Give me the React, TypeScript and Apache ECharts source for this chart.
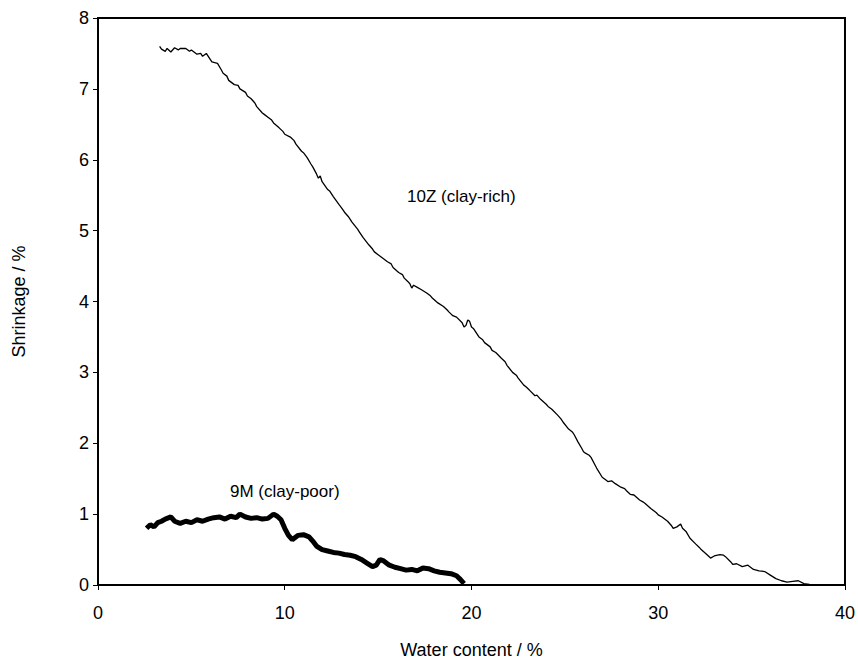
import React, { useEffect, useRef } from "react";
import * as echarts from "echarts";

const xTicks = [0, 10, 20, 30, 40];
const yTicks = [0, 1, 2, 3, 4, 5, 6, 7, 8];

const clayRich10Z: [number, number][] = [
  [3.3, 7.6], [3.4, 7.56], [3.6, 7.53], [3.7, 7.57], [3.9, 7.52], [4.1, 7.58], [4.3, 7.55], [4.4, 7.57],
  [4.7, 7.57], [4.9, 7.53], [5.0, 7.55], [5.3, 7.49], [5.5, 7.5], [5.6, 7.46], [5.8, 7.5], [6.0, 7.42],
  [6.1, 7.38], [6.4, 7.36], [6.6, 7.27], [6.7, 7.22], [6.9, 7.18], [7.0, 7.12], [7.3, 7.06], [7.5, 7.05],
  [7.6, 7.0], [7.9, 6.95], [8.0, 6.9], [8.2, 6.86], [8.4, 6.8], [8.5, 6.75], [8.8, 6.66], [8.9, 6.64],
  [9.1, 6.6], [9.3, 6.56], [9.4, 6.52], [9.7, 6.45], [9.9, 6.4], [10.0, 6.36], [10.3, 6.32], [10.5, 6.27],
  [10.6, 6.22], [10.9, 6.12], [11.0, 6.1], [11.2, 6.03], [11.4, 5.94], [11.5, 5.9], [11.7, 5.8],
  [11.8, 5.74], [11.9, 5.77], [12.0, 5.69], [12.3, 5.58], [12.4, 5.56], [12.6, 5.48], [12.9, 5.37],
  [13.1, 5.3], [13.2, 5.26], [13.4, 5.2], [13.6, 5.12], [13.9, 5.02], [14.0, 4.98], [14.2, 4.9],
  [14.5, 4.8], [14.7, 4.74], [14.8, 4.7], [15.0, 4.66], [15.2, 4.62], [15.5, 4.56], [15.7, 4.53],
  [15.8, 4.48], [16.1, 4.41], [16.3, 4.38], [16.4, 4.33], [16.6, 4.28], [16.7, 4.25], [16.8, 4.19],
  [16.9, 4.23], [17.1, 4.2], [17.3, 4.17], [17.6, 4.12], [17.8, 4.08], [17.9, 4.05], [18.2, 3.98],
  [18.5, 3.93], [18.7, 3.88], [18.8, 3.85], [19.0, 3.8], [19.2, 3.78], [19.5, 3.7], [19.6, 3.64],
  [19.7, 3.66], [19.8, 3.74], [19.9, 3.72], [20.0, 3.64], [20.1, 3.62], [20.4, 3.5], [20.6, 3.46],
  [20.7, 3.42], [21.0, 3.36], [21.1, 3.31], [21.3, 3.28], [21.6, 3.2], [21.8, 3.15], [21.9, 3.1],
  [22.2, 3.0], [22.4, 2.96], [22.5, 2.92], [22.8, 2.82], [22.9, 2.8], [23.1, 2.75], [23.4, 2.67],
  [23.5, 2.68], [23.7, 2.62], [24.0, 2.55], [24.1, 2.52], [24.3, 2.48], [24.6, 2.4], [24.8, 2.34],
  [24.9, 2.3], [25.2, 2.2], [25.4, 2.16], [25.5, 2.12], [25.7, 2.02], [25.9, 1.93], [26.0, 1.88],
  [26.1, 1.86], [26.3, 1.83], [26.4, 1.8], [26.6, 1.7], [26.7, 1.65], [27.0, 1.52], [27.2, 1.48],
  [27.3, 1.46], [27.5, 1.47], [27.7, 1.43], [28.0, 1.38], [28.2, 1.36], [28.3, 1.33], [28.5, 1.28],
  [28.7, 1.27], [29.0, 1.2], [29.2, 1.17], [29.3, 1.15], [29.6, 1.08], [29.9, 1.02], [30.0, 0.99],
  [30.2, 0.96], [30.5, 0.9], [30.7, 0.84], [30.8, 0.8], [31.0, 0.82], [31.2, 0.86], [31.3, 0.8],
  [31.5, 0.75], [31.7, 0.66], [32.0, 0.58], [32.2, 0.53], [32.3, 0.5], [32.6, 0.43], [32.8, 0.38],
  [33.0, 0.41], [33.3, 0.43], [33.5, 0.42], [33.6, 0.4], [33.9, 0.32], [34.0, 0.29], [34.2, 0.3],
  [34.5, 0.26], [34.8, 0.28], [35.1, 0.22], [35.4, 0.2], [35.7, 0.19], [36.0, 0.14], [36.3, 0.09],
  [36.6, 0.06], [36.9, 0.04], [37.2, 0.05], [37.5, 0.06], [37.8, 0.02], [38.1, 0.01], [38.5, 0.0],
];

const clayPoor9M: [number, number][] = [
  [2.6, 0.8], [2.8, 0.85], [3.0, 0.82], [3.2, 0.88], [3.4, 0.9], [3.6, 0.93], [3.9, 0.96],
  [4.1, 0.9], [4.4, 0.87], [4.7, 0.9], [5.0, 0.88], [5.3, 0.92], [5.6, 0.9], [5.9, 0.93],
  [6.2, 0.95], [6.5, 0.96], [6.8, 0.93], [7.1, 0.97], [7.4, 0.95], [7.6, 1.0], [7.9, 0.96],
  [8.2, 0.94], [8.5, 0.95], [8.8, 0.93], [9.1, 0.94], [9.4, 1.0], [9.6, 0.97], [9.8, 0.92],
  [10.0, 0.8], [10.2, 0.7], [10.4, 0.64], [10.7, 0.7], [11.0, 0.71], [11.3, 0.68], [11.5, 0.62],
  [11.7, 0.55], [12.0, 0.5], [12.3, 0.48], [12.6, 0.46], [12.9, 0.45], [13.2, 0.43], [13.5, 0.42],
  [13.8, 0.4], [14.1, 0.36], [14.4, 0.31], [14.7, 0.26], [14.9, 0.28], [15.1, 0.36], [15.3, 0.34],
  [15.6, 0.28], [15.9, 0.25], [16.2, 0.23], [16.5, 0.21], [16.8, 0.22], [17.1, 0.2], [17.4, 0.24],
  [17.7, 0.23], [18.0, 0.2], [18.3, 0.18], [18.6, 0.17], [18.9, 0.16], [19.2, 0.13], [19.4, 0.08],
  [19.6, 0.02],
];

const FONT = "Liberation Sans, Arial, Helvetica, sans-serif";

export default function App() {
  const ref = useRef<HTMLDivElement>(null);
  useEffect(() => {
    if (!ref.current) return;
    const chart = echarts.init(ref.current, undefined, { renderer: "svg" });
    chart.setOption({
      animation: false,
      backgroundColor: "#ffffff",
      textStyle: { fontFamily: FONT },
      grid: {
        left: 98,
        right: 13,
        top: 18,
        bottom: 84,
        show: true,
        borderColor: "#000",
        borderWidth: 2,
        backgroundColor: "transparent",
      },
      xAxis: {
        type: "value",
        min: xTicks[0],
        max: xTicks[xTicks.length - 1],
        interval: 10,
        name: "Water content / %",
        nameLocation: "middle",
        nameGap: 56,
        nameTextStyle: { fontSize: 18, color: "#000", fontFamily: FONT },
        axisLine: { show: true, lineStyle: { color: "#000", width: 2 } },
        axisTick: { show: true, inside: false, length: 5, lineStyle: { color: "#000", width: 1 } },
        axisLabel: { fontSize: 18, color: "#000", margin: 19, fontFamily: FONT },
        splitLine: { show: false },
      },
      yAxis: {
        type: "value",
        min: yTicks[0],
        max: yTicks[yTicks.length - 1],
        interval: 1,
        name: "Shrinkage / %",
        nameLocation: "middle",
        nameGap: 70,
        nameTextStyle: { fontSize: 18, color: "#000", fontFamily: FONT },
        axisLine: { show: true, lineStyle: { color: "#000", width: 2 } },
        axisTick: { show: true, inside: false, length: 5, lineStyle: { color: "#000", width: 1 } },
        axisLabel: { fontSize: 18, color: "#000", margin: 9, fontFamily: FONT },
        splitLine: { show: false },
      },
      series: [
        {
          name: "10Z (clay-rich)",
          type: "line",
          data: clayRich10Z,
          showSymbol: false,
          symbol: "none",
          lineStyle: { color: "#000", width: 1.3 },
        },
        {
          name: "9M (clay-poor)",
          type: "line",
          data: clayPoor9M,
          showSymbol: false,
          symbol: "none",
          lineStyle: { color: "#000", width: 5 },
        },
      ],
      graphic: [
        {
          type: "text",
          left: 407,
          top: 188,
          style: { text: "10Z (clay-rich)", fontSize: 17, fill: "#000", fontFamily: FONT },
        },
        {
          type: "text",
          left: 230,
          top: 483,
          style: { text: "9M (clay-poor)", fontSize: 17, fill: "#000", fontFamily: FONT },
        },
      ],
    });
    return () => chart.dispose();
  }, []);
  return (
    <div
      ref={ref}
      style={{ position: "absolute", left: 0, top: 0, width: 858, height: 669, overflow: "hidden" }}
    />
  );
}
